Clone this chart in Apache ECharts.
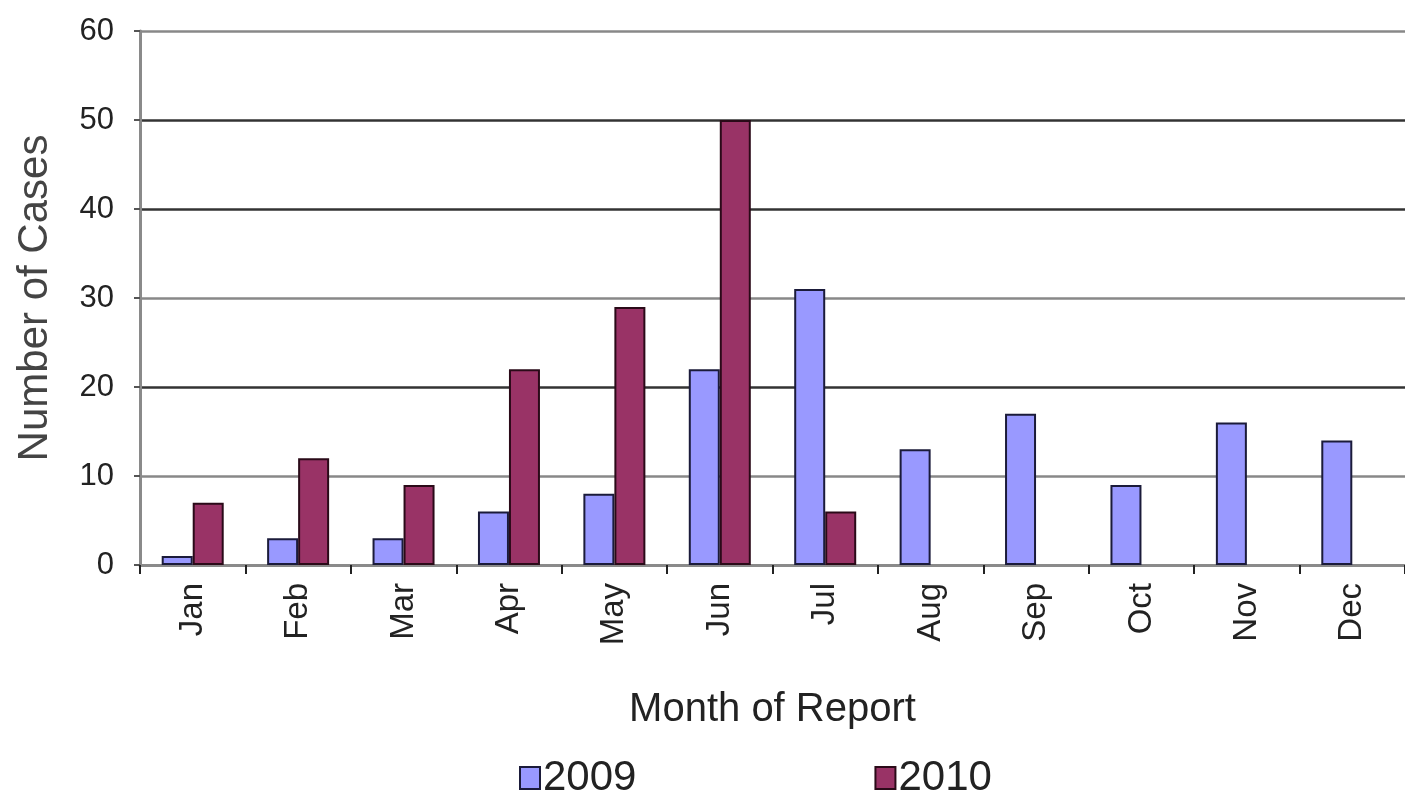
<!DOCTYPE html>
<html>
<head>
<meta charset="utf-8">
<script src="https://cdn.jsdelivr.net/npm/echarts@6/dist/echarts.min.js"></script>
<style>
html,body{margin:0;padding:0;background:#fff;}
#chart{width:1405px;height:793px;}
</style>
</head>
<body>
<div id="chart"></div>
<script>
const months = ['Jan','Feb','Mar','Apr','May','Jun','Jul','Aug','Sep','Oct','Nov','Dec'];
const cases2009 = [1,3,3,6,8,22,31,13,17,9,16,14];
const cases2010 = [7,12,9,22,29,50,6,null,null,null,null,null];
const seriesNames = ['2009','2010'];

const chart = echarts.init(document.getElementById('chart'));
const font = '"Liberation Sans", Arial, sans-serif';
chart.setOption({
  animation: false,
  backgroundColor: '#fff',
  grid: {left: 140, right: 0, top: 31, bottom: 228, outerBoundsMode: 'none', containLabel: false},
  legend: {
    data: seriesNames,
    left: 514, top: 752,
    itemWidth: 20, itemHeight: 22, itemGap: 238,
    icon: 'rect',
    textStyle: {fontFamily: font, fontSize: 42, color: '#222', padding: [0,0,0,-2]}
  },
  xAxis: {
    type: 'category',
    data: months,
    name: 'Month of Report',
    nameLocation: 'middle',
    nameGap: 125,
    nameTextStyle: {fontFamily: font, fontSize: 40, color: '#222'},
    axisLine: {lineStyle: {color: '#8a8a8a', width: 3}},
    axisTick: {show: true, length: 9, lineStyle: {color: '#222', width: 2}},
    axisLabel: {rotate: 90, margin: 18, fontFamily: font, fontSize: 33, color: '#222'},
    splitLine: {show: false}
  },
  yAxis: {
    type: 'value',
    min: 0, max: 60, interval: 10,
    name: 'Number of Cases',
    nameLocation: 'middle',
    nameGap: 84,
    nameRotate: 90,
    nameTextStyle: {fontFamily: font, fontSize: 42, color: '#444'},
    axisLine: {show: true, lineStyle: {color: '#8a8a8a', width: 3}},
    axisTick: {show: true, length: 6, lineStyle: {color: '#555', width: 2}},
    axisLabel: {margin: 26, fontFamily: font, fontSize: 31, color: '#222'},
    splitLine: {show: true, lineStyle: {color: ['#888','#888','#333','#888','#333','#333','#888'], width: 2.5}}
  },
  series: [
    {
      name: seriesNames[0], type: 'bar', data: cases2009,
      barWidth: 31, barGap: '0%',
      itemStyle: {color: '#9999ff', borderColor: '#1b1b3a', borderWidth: 2}
    },
    {
      name: seriesNames[1], type: 'bar', data: cases2010,
      barWidth: 31, barGap: '0%',
      itemStyle: {color: '#993366', borderColor: '#2a0a18', borderWidth: 2}
    }
  ]
});
</script>
</body>
</html>
